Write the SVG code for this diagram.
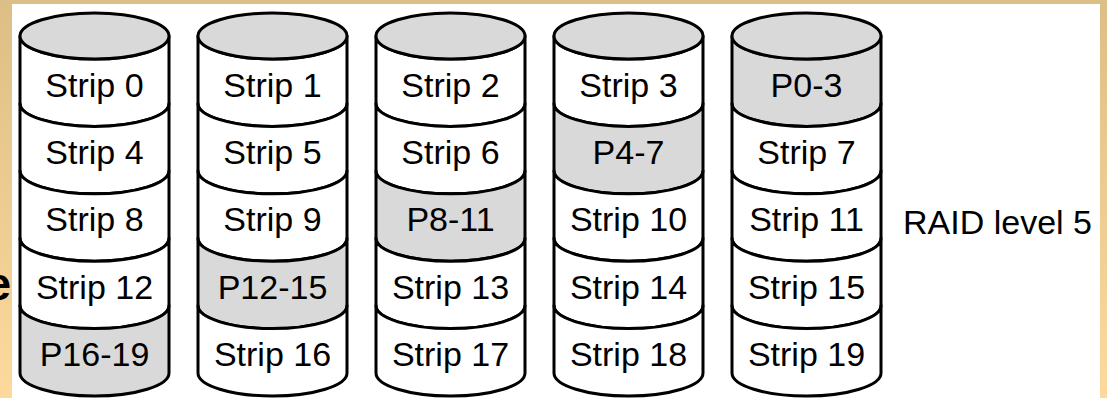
<svg xmlns="http://www.w3.org/2000/svg" width="1107" height="398" viewBox="0 0 1107 398">
<style>
.seg{stroke:#000;stroke-width:3;stroke-linejoin:round}
.w{fill:#fff}
.g{fill:#d9d9d9}
.t{font-family:"Liberation Sans",Arial,sans-serif;font-size:34px;fill:#000;text-anchor:middle}
.lbl{font-family:"Liberation Sans",Arial,sans-serif;font-size:34px;fill:#000}
</style>
<defs>
<linearGradient id="bg" x1="0" y1="0" x2="0" y2="1">
<stop offset="0" stop-color="#dcbf86"/>
<stop offset="1" stop-color="#fdd99c"/>
</linearGradient>
<g id="cyl">
<ellipse class="seg g" cx="74.5" cy="36" rx="74.5" ry="23"/>
</g>
</defs>
<rect x="0" y="0" width="1107" height="398" fill="url(#bg)"/>
<text x="11" y="300" font-family="Liberation Sans,Arial,sans-serif" font-weight="bold" font-size="46" text-anchor="end" fill="#000">e</text>
<rect x="12" y="4" width="1088" height="394" fill="#fff"/>
<g id="connectors"></g>
<g id="disk0" transform="translate(20,0)">
<path class="seg w" d="M0,36 A74.5,23 0 0 0 149,36 L149,103.4 A74.5,23 0 0 1 0,103.4 Z"/>
<path class="seg w" d="M0,103.4 A74.5,23 0 0 0 149,103.4 L149,170.8 A74.5,23 0 0 1 0,170.8 Z"/>
<path class="seg w" d="M0,170.8 A74.5,23 0 0 0 149,170.8 L149,238.2 A74.5,23 0 0 1 0,238.2 Z"/>
<path class="seg w" d="M0,238.2 A74.5,23 0 0 0 149,238.2 L149,305.6 A74.5,23 0 0 1 0,305.6 Z"/>
<path class="seg g" d="M0,305.6 A74.5,23 0 0 0 149,305.6 L149,373 A74.5,23 0 0 1 0,373 Z"/>
<ellipse class="seg g" cx="74.5" cy="36" rx="74.5" ry="23"/>
<text class="t" x="74.5" y="96.5">Strip 0</text>
<text class="t" x="74.5" y="163.9">Strip 4</text>
<text class="t" x="74.5" y="231.3">Strip 8</text>
<text class="t" x="74.5" y="298.7">Strip 12</text>
<text class="t" x="74.5" y="366.1">P16-19</text>
</g>
<g id="disk1" transform="translate(198,0)">
<path class="seg w" d="M0,36 A74.5,23 0 0 0 149,36 L149,103.4 A74.5,23 0 0 1 0,103.4 Z"/>
<path class="seg w" d="M0,103.4 A74.5,23 0 0 0 149,103.4 L149,170.8 A74.5,23 0 0 1 0,170.8 Z"/>
<path class="seg w" d="M0,170.8 A74.5,23 0 0 0 149,170.8 L149,238.2 A74.5,23 0 0 1 0,238.2 Z"/>
<path class="seg g" d="M0,238.2 A74.5,23 0 0 0 149,238.2 L149,305.6 A74.5,23 0 0 1 0,305.6 Z"/>
<path class="seg w" d="M0,305.6 A74.5,23 0 0 0 149,305.6 L149,373 A74.5,23 0 0 1 0,373 Z"/>
<ellipse class="seg g" cx="74.5" cy="36" rx="74.5" ry="23"/>
<text class="t" x="74.5" y="96.5">Strip 1</text>
<text class="t" x="74.5" y="163.9">Strip 5</text>
<text class="t" x="74.5" y="231.3">Strip 9</text>
<text class="t" x="74.5" y="298.7">P12-15</text>
<text class="t" x="74.5" y="366.1">Strip 16</text>
</g>
<g id="disk2" transform="translate(376,0)">
<path class="seg w" d="M0,36 A74.5,23 0 0 0 149,36 L149,103.4 A74.5,23 0 0 1 0,103.4 Z"/>
<path class="seg w" d="M0,103.4 A74.5,23 0 0 0 149,103.4 L149,170.8 A74.5,23 0 0 1 0,170.8 Z"/>
<path class="seg g" d="M0,170.8 A74.5,23 0 0 0 149,170.8 L149,238.2 A74.5,23 0 0 1 0,238.2 Z"/>
<path class="seg w" d="M0,238.2 A74.5,23 0 0 0 149,238.2 L149,305.6 A74.5,23 0 0 1 0,305.6 Z"/>
<path class="seg w" d="M0,305.6 A74.5,23 0 0 0 149,305.6 L149,373 A74.5,23 0 0 1 0,373 Z"/>
<ellipse class="seg g" cx="74.5" cy="36" rx="74.5" ry="23"/>
<text class="t" x="74.5" y="96.5">Strip 2</text>
<text class="t" x="74.5" y="163.9">Strip 6</text>
<text class="t" x="74.5" y="231.3">P8-11</text>
<text class="t" x="74.5" y="298.7">Strip 13</text>
<text class="t" x="74.5" y="366.1">Strip 17</text>
</g>
<g id="disk3" transform="translate(554,0)">
<path class="seg w" d="M0,36 A74.5,23 0 0 0 149,36 L149,103.4 A74.5,23 0 0 1 0,103.4 Z"/>
<path class="seg g" d="M0,103.4 A74.5,23 0 0 0 149,103.4 L149,170.8 A74.5,23 0 0 1 0,170.8 Z"/>
<path class="seg w" d="M0,170.8 A74.5,23 0 0 0 149,170.8 L149,238.2 A74.5,23 0 0 1 0,238.2 Z"/>
<path class="seg w" d="M0,238.2 A74.5,23 0 0 0 149,238.2 L149,305.6 A74.5,23 0 0 1 0,305.6 Z"/>
<path class="seg w" d="M0,305.6 A74.5,23 0 0 0 149,305.6 L149,373 A74.5,23 0 0 1 0,373 Z"/>
<ellipse class="seg g" cx="74.5" cy="36" rx="74.5" ry="23"/>
<text class="t" x="74.5" y="96.5">Strip 3</text>
<text class="t" x="74.5" y="163.9">P4-7</text>
<text class="t" x="74.5" y="231.3">Strip 10</text>
<text class="t" x="74.5" y="298.7">Strip 14</text>
<text class="t" x="74.5" y="366.1">Strip 18</text>
</g>
<g id="disk4" transform="translate(732,0)">
<path class="seg g" d="M0,36 A74.5,23 0 0 0 149,36 L149,103.4 A74.5,23 0 0 1 0,103.4 Z"/>
<path class="seg w" d="M0,103.4 A74.5,23 0 0 0 149,103.4 L149,170.8 A74.5,23 0 0 1 0,170.8 Z"/>
<path class="seg w" d="M0,170.8 A74.5,23 0 0 0 149,170.8 L149,238.2 A74.5,23 0 0 1 0,238.2 Z"/>
<path class="seg w" d="M0,238.2 A74.5,23 0 0 0 149,238.2 L149,305.6 A74.5,23 0 0 1 0,305.6 Z"/>
<path class="seg w" d="M0,305.6 A74.5,23 0 0 0 149,305.6 L149,373 A74.5,23 0 0 1 0,373 Z"/>
<ellipse class="seg g" cx="74.5" cy="36" rx="74.5" ry="23"/>
<text class="t" x="74.5" y="96.5">P0-3</text>
<text class="t" x="74.5" y="163.9">Strip 7</text>
<text class="t" x="74.5" y="231.3">Strip 11</text>
<text class="t" x="74.5" y="298.7">Strip 15</text>
<text class="t" x="74.5" y="366.1">Strip 19</text>
</g>
<g id="label">
<text class="lbl" x="903" y="234">RAID level 5</text>
</g>
</svg>
